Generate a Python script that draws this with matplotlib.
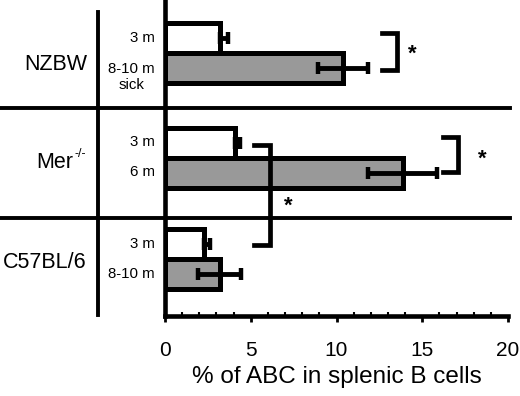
#!/usr/bin/env python3
import matplotlib
matplotlib.use("Agg")
import matplotlib.pyplot as plt
from matplotlib.lines import Line2D
from matplotlib.transforms import blended_transform_factory

plt.rcParams.update({
    "font.family": ["Liberation Sans", "DejaVu Sans"],
})

# data
groups = ["NZBW", "Mer", "C57BL/6"]
group_sup = ["", "-/-", ""]
ages = [["3 m", "8-10 m\nsick"], ["3 m", "6 m"], ["3 m", "8-10 m"]]
means = [[3.2, 10.4], [4.1, 13.85], [2.3, 3.2]]
err_lo = [[0.0, 1.45], [0.0, 2.0], [0.0, 1.25]]
err_hi = [[0.5, 1.45], [0.3, 2.0], [0.3, 1.25]]
colors = ["white", "#999999"]

# layout in pixel rows (y axis runs top -> bottom in px)
group_y = [53, 157.5, 259]
label_dy = [12, 5.5, 4]
bar_h = 30
seps = [108, 218]
H_AX = 316


def main():
    fig = plt.figure(figsize=(5.2, 3.96), dpi=100)
    ax = fig.add_axes([165 / 520, 1 - H_AX / 396, 343 / 520, H_AX / 396])
    ax.set_xlim(0, 20)
    ax.set_ylim(H_AX, 0)

    for gi in range(3):
        for bi in range(2):
            y = group_y[gi] + (bi - 0.5) * bar_h
            ax.barh(y, means[gi][bi], height=bar_h, color=colors[bi],
                    edgecolor="black", linewidth=3.6, zorder=2)
            ax.errorbar(means[gi][bi], y,
                        xerr=[[err_lo[gi][bi]], [err_hi[gi][bi]]],
                        fmt="none", ecolor="black", elinewidth=3.5,
                        capsize=4.5, capthick=3.2, zorder=3)
            nl = ages[gi][bi].count("\n")
            ax.annotate(ages[gi][bi], xy=(0, y), xytext=(-7.5, -6.5 * nl),
                        textcoords="offset points", ha="right", va="center",
                        multialignment="center", fontsize=10.8, linespacing=1.1,
                        annotation_clip=False)
        xr = 87 if not group_sup[gi] else 73
        fig.text(xr / 520, 1 - (group_y[gi] + label_dy[gi]) / 396, groups[gi],
                 ha="right", va="center", fontsize=15.5)
        if group_sup[gi]:
            fig.text(xr / 520 + 0.002, 1 - (group_y[gi] + label_dy[gi] - 9) / 396,
                     group_sup[gi], ha="left", va="center", fontsize=9)

    # significance brackets: (x of vertical, x of arm ends, y top, y bottom, x star, y star)
    brackets = [(13.5, 12.65, 33, 70, 14.4, 50),
                (17.1, 16.2, 137, 172, 18.5, 155),
                (6.12, 5.2, 145, 245, 7.2, 202)]
    for xv, xa, yt, yb, xs, ys in brackets:
        ax.plot([xa, xv, xv, xa], [yt, yt, yb, yb], color="black",
                lw=3.4, solid_joinstyle="miter", clip_on=False, zorder=4)
        ax.text(xs, ys + 4, "*", ha="center", va="center", fontsize=16,
                fontweight="bold")

    # separators and left divider spanning the figure
    tr = blended_transform_factory(fig.transFigure, ax.transData)
    for s in seps:
        fig.add_artist(Line2D([0, 510 / 520], [s, s], transform=tr,
                              color="black", lw=2.8))
    fig.add_artist(Line2D([98 / 520, 98 / 520], [12, 315], transform=tr,
                          color="black", lw=2.8))

    for side in ["top", "right"]:
        ax.spines[side].set_visible(False)
    ax.spines["left"].set_linewidth(3.3)
    ax.spines["bottom"].set_linewidth(3.3)
    ax.set_yticks([])
    ax.set_xticks([0, 5, 10, 15, 20])
    ax.set_xticks(range(0, 21), minor=True)
    ax.tick_params(axis="x", which="major", direction="out", length=4,
                   width=2, labelsize=15, pad=14)
    ax.tick_params(axis="x", which="minor", direction="in", length=3, width=1.5)
    ax.set_xlabel("% of ABC in splenic B cells", fontsize=17.5, labelpad=4)

    fig.savefig("out.png", dpi=100)


if __name__ == "__main__":
    main()
